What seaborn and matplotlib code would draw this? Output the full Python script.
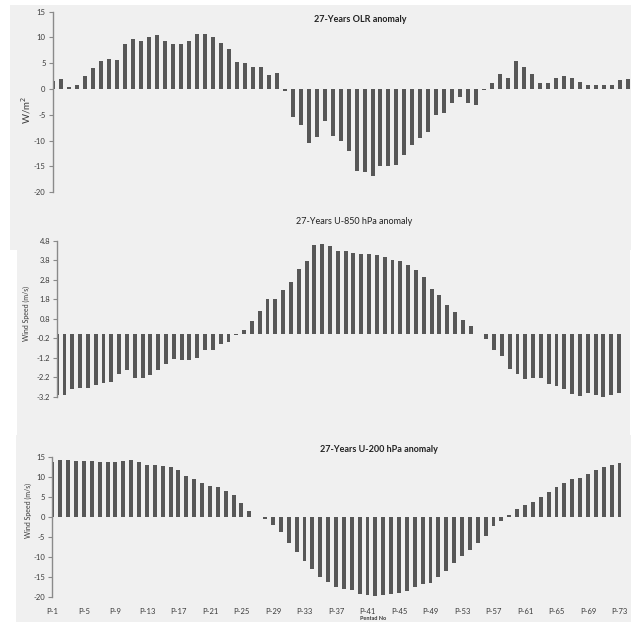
import matplotlib
matplotlib.use("Agg")
import matplotlib.pyplot as plt
from matplotlib.patches import Rectangle
import seaborn as sns
import numpy as np
import pandas as pd

# ---------------- data ----------------
pentads = [f"P-{i}" for i in range(1, 74)]

olr = [1.5, 2.0, 0.5, 0.7, 2.6, 4.0, 5.5, 5.9, 5.7, 8.7,
       9.8, 9.4, 10.1, 10.4, 9.4, 8.8, 8.8, 9.4, 10.6, 10.6,
       10.0, 9.0, 7.7, 5.2, 5.0, 4.3, 4.3, 2.8, 3.2, -0.4,
       -5.5, -7.0, -10.4, -9.2, -6.2, -9.0, -10.1, -11.9, -15.8, -16.0,
       -16.8, -15.0, -15.0, -14.8, -12.7, -10.8, -9.4, -8.4, -5.1, -4.7,
       -2.6, -1.6, -2.7, -3.1, -0.2, 1.2, 2.9, 2.1, 5.4, 4.2,
       2.9, 1.2, 1.2, 2.1, 2.5, 2.1, 1.4, 0.8, 0.8, 0.8,
       0.8, 1.7, 2.0]

u850 = [-3.13, -3.11, -2.82, -2.75, -2.75, -2.60, -2.50, -2.44, -2.03, -1.83,
        -2.24, -2.24, -2.08, -1.83, -1.52, -1.26, -1.32, -1.32, -1.21, -0.80,
        -0.80, -0.50, -0.38, -0.05, 0.20, 0.68, 1.18, 1.79, 1.79, 2.26,
        2.67, 3.37, 3.75, 4.56, 4.63, 4.51, 4.26, 4.26, 4.15, 4.10,
        4.10, 4.05, 3.95, 3.79, 3.74, 3.54, 3.28, 2.94, 2.31, 2.00,
        1.49, 1.13, 0.72, 0.41, 0.02, -0.22, -0.80, -1.11, -1.78, -2.03,
        -2.29, -2.24, -2.24, -2.55, -2.65, -2.80, -3.06, -3.16, -3.01, -3.11,
        -3.21, -3.11, -3.01]

u200 = [13.7, 14.3, 14.3, 14.1, 14.1, 14.1, 13.8, 13.8, 13.8, 14.1,
        14.3, 13.8, 13.1, 13.1, 12.8, 12.6, 11.8, 10.3, 9.5, 8.5,
        7.8, 7.5, 6.5, 5.5, 3.5, 1.5, 0.0, -0.4, -1.9, -3.7,
        -6.4, -8.7, -11.0, -13.0, -15.0, -16.2, -17.5, -18.0, -18.3, -19.3,
        -19.5, -19.8, -19.5, -19.3, -19.0, -18.5, -17.5, -16.8, -16.5, -15.0,
        -13.5, -11.5, -9.7, -8.2, -6.4, -4.7, -2.2, -0.9, 0.4, 2.0,
        3.0, 3.8, 5.0, 6.3, 7.5, 8.5, 9.5, 9.8, 10.8, 11.8,
        12.6, 13.1, 13.6]

titles = ["27-Years OLR anomaly", "27-Years U-850 hPa anomaly", "27-Years U-200 hPa anomaly"]
ylabels = ["W/m$^2$", "Wind Speed (m/s)", "Wind Speed (m/s)"]
yticks_olr = [15, 10, 5, 0, -5, -10, -15, -20]
yticks_u850 = [4.8, 3.8, 2.8, 1.8, 0.8, -0.2, -1.2, -2.2, -3.2]
yticks_u200 = [15, 10, 5, 0, -5, -10, -15, -20]
xtick_labels = [f"P-{i}" for i in range(1, 74, 4)]

# ---------------- style ----------------
sns.set_theme(style="white")
plt.rcParams["font.family"] = ["Lato", "DejaVu Sans"]
plt.rcParams["axes.unicode_minus"] = False

W, H = 631, 622
fig = plt.figure(figsize=(W / 100, H / 100), dpi=100, facecolor="white")

bg = "#f0f0f0"
def rect_px(x0, y0, x1, y1):
    fig.patches.append(Rectangle((x0 / W, 1 - y1 / H), (x1 - x0) / W, (y1 - y0) / H,
                                 transform=fig.transFigure, facecolor=bg,
                                 edgecolor="none", zorder=-5))
rect_px(10, 5, 631, 250)
rect_px(17, 250, 630, 435)
rect_px(16, 435, 631, 622)

def axes_px(left, top, right, bottom):
    ax = fig.add_axes([left / W, 1 - bottom / H, (right - left) / W, (bottom - top) / H])
    ax.set_zorder(2)
    return ax

bar_color = "#575757"
spine_color = "#8a8a8a"
text_color = "#3a3a3a"

def style_axes(ax, yticks, fmt, ylim):
    ax.set_facecolor("none")
    ax.patch.set_alpha(0)
    for s in ["top", "right", "bottom"]:
        ax.spines[s].set_visible(False)
    ax.spines["left"].set_color(spine_color)
    ax.spines["left"].set_linewidth(1.0)
    ax.set_ylim(*ylim)
    ax.set_yticks(yticks)
    ax.set_yticklabels([fmt(v) for v in yticks], fontsize=5.5, color=text_color)
    ax.tick_params(axis="y", which="both", left=True, length=3, width=0.8,
                   color=spine_color, pad=2)
    ax.set_xlabel("")
    ax.set_ylabel("")

# Panel 1: OLR
ax1 = axes_px(52.5, 11.7, 631, 192.3)
df1 = pd.DataFrame({"pentad": pentads, "value": olr})
sns.barplot(data=df1, x="pentad", y="value", order=pentads, color=bar_color,
            saturation=1, width=0.5, linewidth=0, errorbar=None, ax=ax1)
ax1.set_xlim(-0.1, 72.39)
style_axes(ax1, yticks_olr, lambda v: f"{v:d}", (-20, 15))
ax1.set_xticks([])

# Panel 2: U-850
ax2 = axes_px(57.3, 240.7, 625, 396.7)
df2 = pd.DataFrame({"pentad": pentads, "value": u850})
sns.barplot(data=df2, x="pentad", y="value", order=pentads, color=bar_color,
            saturation=1, width=0.5, linewidth=0, errorbar=None, ax=ax2)
ax2.set_xlim(0.08, 72.77)
style_axes(ax2, yticks_u850, lambda v: f"{v:.1f}", (-3.2, 4.8))
ax2.set_xticks([])

# Panel 3: U-200
ax3 = axes_px(52.3, 457.3, 625, 596.7)
df3 = pd.DataFrame({"pentad": pentads, "value": u200})
sns.barplot(data=df3, x="pentad", y="value", order=pentads, color=bar_color,
            saturation=1, width=0.5, linewidth=0, errorbar=None, ax=ax3)
ax3.set_xlim(-0.02, 72.7)
style_axes(ax3, yticks_u200, lambda v: f"{v:d}", (-20, 15))
ax3.set_xticks(list(range(0, 73, 4)))
ax3.set_xticklabels(xtick_labels, fontsize=5.5, color=text_color)
ax3.tick_params(axis="x", length=0, pad=8)

# titles and y labels (pixel positions)
def ftext(x, y, s, **kw):
    fig.text(x / W, 1 - y / H, s, **kw)

ftext(360, 19, titles[0], ha="center", va="center", fontsize=6.5, weight="bold", color="#222222")
ftext(354, 221, titles[1], ha="center", va="center", fontsize=6.5, color="#222222")
ftext(379, 449, titles[2], ha="center", va="center", fontsize=6.5, weight="bold", color="#222222")

ftext(26, 110, ylabels[0], ha="center", va="center", rotation=90, fontsize=7, color=text_color)
ftext(26, 313, ylabels[1], ha="center", va="center", rotation=90, fontsize=5, color=text_color)
ftext(28, 510, ylabels[2], ha="center", va="center", rotation=90, fontsize=5, color=text_color)

ftext(373, 618, "Pentad No", ha="center", va="center", fontsize=4, weight="bold", color=text_color)

fig.savefig("out.png", dpi=100, facecolor="white")
